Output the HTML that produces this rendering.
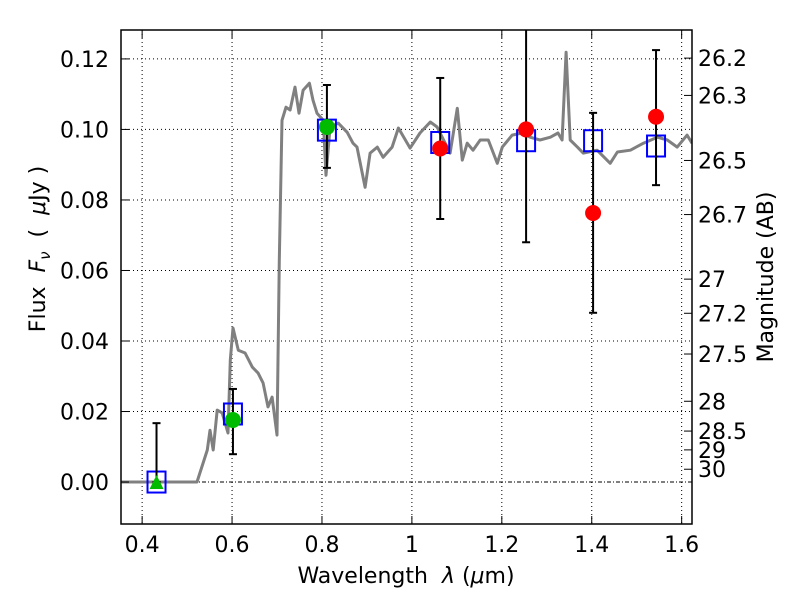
<!DOCTYPE html>
<html><head><meta charset="utf-8">
<style>
html,body{margin:0;padding:0;background:#fff;}
svg{display:block;font-family:"DejaVu Sans","Liberation Sans",sans-serif;}
</style></head>
<body>
<svg id="chart" width="800" height="600" viewBox="0 0 800 600" xmlns="http://www.w3.org/2000/svg"></svg>
<script>
const specWave=[0.353,0.522,0.545,0.551,0.558,0.567,0.578,0.591,0.596,0.602,0.614,0.629,0.645,0.658,0.669,0.680,0.689,0.700,0.705,0.711,0.720,0.729,0.740,0.749,0.758,0.772,0.780,0.789,0.803,0.809,0.818,0.836,0.856,0.869,0.878,0.896,0.907,0.923,0.936,0.956,0.970,0.996,1.018,1.041,1.056,1.085,1.101,1.112,1.123,1.136,1.152,1.170,1.190,1.201,1.223,1.245,1.263,1.285,1.308,1.325,1.334,1.343,1.352,1.368,1.381,1.412,1.441,1.457,1.486,1.515,1.546,1.568,1.590,1.612,1.623];
const specFlux=[0,0,0.0091,0.0147,0.0091,0.0204,0.0196,0.0139,0.0346,0.0437,0.0374,0.0366,0.0326,0.0309,0.0281,0.0213,0.0241,0.0133,0.0629,0.1026,0.1063,0.1055,0.112,0.1046,0.1111,0.1131,0.1083,0.1046,0.1026,0.087,0.1007,0.1018,0.0992,0.0961,0.095,0.0836,0.0933,0.095,0.0921,0.095,0.1004,0.0947,0.099,0.1021,0.1007,0.0933,0.106,0.0913,0.0961,0.0941,0.097,0.097,0.0904,0.095,0.0984,0.099,0.0978,0.097,0.0978,0.099,0.097,0.1219,0.097,0.095,0.0933,0.0941,0.0904,0.0936,0.0941,0.0961,0.0978,0.097,0.095,0.0984,0.0961];
const modelWave=[0.432,0.602,0.811,1.063,1.254,1.403,1.543];
const modelFlux=[0.0,0.0193,0.0998,0.0963,0.0968,0.0968,0.0953];
const greenWave=[0.602,0.811];
const greenFlux=[0.0176,0.1007];
const greenLo=[0.0079,0.0891];
const greenHi=[0.0264,0.1126];
const redWave=[1.063,1.254,1.403,1.543];
const redFlux=[0.0946,0.1,0.0763,0.1036];
const redLo=[0.0746,0.068,0.048,0.0842];
const redHi=[0.1146,0.135,0.1047,0.1225];
const triWave=[0.432];
const triFlux=[0.0];
const triHi=[0.0167];
const xTicks=[0.4,0.6,0.8,1.0,1.2,1.4,1.6];
const xTickLabels=["0.4","0.6","0.8","1","1.2","1.4","1.6"];
const yTicks=[0,0.02,0.04,0.06,0.08,0.10,0.12];
const yTickLabels=["0.00","0.02","0.04","0.06","0.08","0.10","0.12"];
const magTicks=[26.2,26.3,26.5,26.7,27,27.2,27.5,28,28.5,29,30];
const magLabels=["26.2","26.3","26.5","26.7","27","27.2","27.5","28","28.5","29","30"];

const L=121,R=692,T=30,B=524;
const X0=0.353,X1=1.623,Y0=-0.0119,Y1=0.1282;
const sx=v=>L+(v-X0)/(X1-X0)*(R-L);
const sy=v=>B-(v-Y0)/(Y1-Y0)*(B-T);
const NS="http://www.w3.org/2000/svg";
const svg=document.getElementById('chart');
function mk(tag,attrs,parent){const e=document.createElementNS(NS,tag);for(const k in attrs)e.setAttribute(k,attrs[k]);(parent||svg).appendChild(e);return e;}

const defs=mk('defs',{});
const cp=mk('clipPath',{id:'clip'},defs);
mk('rect',{x:L,y:T,width:R-L,height:B-T},cp);

const grid=mk('g',{});


xTicks.forEach(v=>{mk('line',{x1:sx(v),x2:sx(v),y1:T,y2:B,stroke:'#000','stroke-width':1,'stroke-dasharray':'1,3'},grid);});
yTicks.forEach(v=>{if(v!==0)mk('line',{x1:L,x2:R,y1:sy(v),y2:sy(v),stroke:'#000','stroke-width':1,'stroke-dasharray':'1,3'},grid);});
const zl=mk('line',{x1:L,x2:R,y1:sy(0),y2:sy(0),stroke:'#000','stroke-width':1,'stroke-dasharray':'4,2,1,2'});



const g=mk('g',{'clip-path':'url(#clip)'});
let d='';
specWave.forEach((w,i)=>{d+=(i?'L':'M')+sx(w).toFixed(1)+','+sy(specFlux[i]).toFixed(1);});
const sp=mk('path',{d:d,fill:'none',stroke:'#808080','stroke-width':3,'stroke-linejoin':'round'},g);



modelWave.forEach((w,i)=>{
 const r=mk('rect',{x:sx(w)-9,y:sy(modelFlux[i])-10.5,width:18,height:21,fill:'none',stroke:'#0000ff','stroke-width':2},g);
 
 
});
function ebar(x,lo,hi,name){
 const e=mk('g',{},g);
 
 
 mk('line',{x1:x,x2:x,y1:sy(lo),y2:sy(hi),stroke:'#000','stroke-width':2},e);
 mk('line',{x1:x-4,x2:x+4,y1:sy(lo),y2:sy(lo),stroke:'#000','stroke-width':2},e);
 mk('line',{x1:x-4,x2:x+4,y1:sy(hi),y2:sy(hi),stroke:'#000','stroke-width':2},e);
}
triWave.forEach((w,i)=>{
 ebar(sx(w),triFlux[i],triHi[i],'upper-limit-errorbar');
 const x=sx(w),y=sy(triFlux[i]);
 const p=mk('polygon',{points:`${x-7},${y+7} ${x+7},${y+7} ${x},${y-7}`,fill:'#00bb00'},g);
 
 
});
greenWave.forEach((w,i)=>{
 ebar(sx(w),greenLo[i],greenHi[i],'green-errorbar');
 const c=mk('circle',{cx:sx(w),cy:sy(greenFlux[i]),r:8,fill:'#00bb00'},g);
 
 
});
redWave.forEach((w,i)=>{
 ebar(sx(w),redLo[i],redHi[i],'red-errorbar');
 const c=mk('circle',{cx:sx(w),cy:sy(redFlux[i]),r:8,fill:'#ff0000'},g);
 
 
});

const fr=mk('rect',{x:L,y:T,width:R-L,height:B-T,fill:'none',stroke:'#000','stroke-width':1.5});



const xa=mk('g',{'font-size':22,'text-anchor':'middle',fill:'#000'});


xTicks.forEach((v,i)=>{
 const x=sx(v);
 mk('line',{x1:x,x2:x,y1:B,y2:B-8,stroke:'#000','stroke-width':1},xa);
 mk('line',{x1:x,x2:x,y1:T,y2:T+8,stroke:'#000','stroke-width':1},xa);
 const t=mk('text',{x:x,y:B+28},xa);t.textContent=xTickLabels[i];
 
 
});
const ya=mk('g',{'font-size':22,'text-anchor':'end',fill:'#000'});


yTicks.forEach((v,i)=>{
 const y=sy(v);
 mk('line',{x1:L,x2:L+8,y1:y,y2:y,stroke:'#000','stroke-width':1},ya);
 const t=mk('text',{x:L-12,y:y+8},ya);t.textContent=yTickLabels[i];
 
 
});
const ma=mk('g',{'font-size':22,'text-anchor':'start',fill:'#000'});


magTicks.forEach((m,i)=>{
 const y=sy(Math.pow(10,(23.9-m)/2.5));
 mk('line',{x1:R,x2:R-8,y1:y,y2:y,stroke:'#000','stroke-width':1},ma);
 const t=mk('text',{x:R+6,y:y+8},ma);t.textContent=magLabels[i];
 
 
});
</script>
<svg width="800" height="600" style="position:absolute;left:0;top:0;font-family:'DejaVu Sans','Liberation Sans',sans-serif" xmlns="http://www.w3.org/2000/svg">
 <text x="406" y="583" font-size="22" text-anchor="middle" xml:space="preserve">Wavelength  <tspan font-style="italic">λ</tspan> (<tspan font-style="italic">μ</tspan>m)</text>
 <text transform="translate(45,249) rotate(-90)" font-size="22" text-anchor="middle" xml:space="preserve">Flux  <tspan font-style="italic">F<tspan font-size="15" dy="5">ν</tspan></tspan><tspan dy="-5">  (  </tspan><tspan font-style="italic">μ</tspan>Jy )</text>
 <text transform="translate(773,277) rotate(-90)" font-size="22" text-anchor="middle">Magnitude (AB)</text>
</svg>
</body></html>
